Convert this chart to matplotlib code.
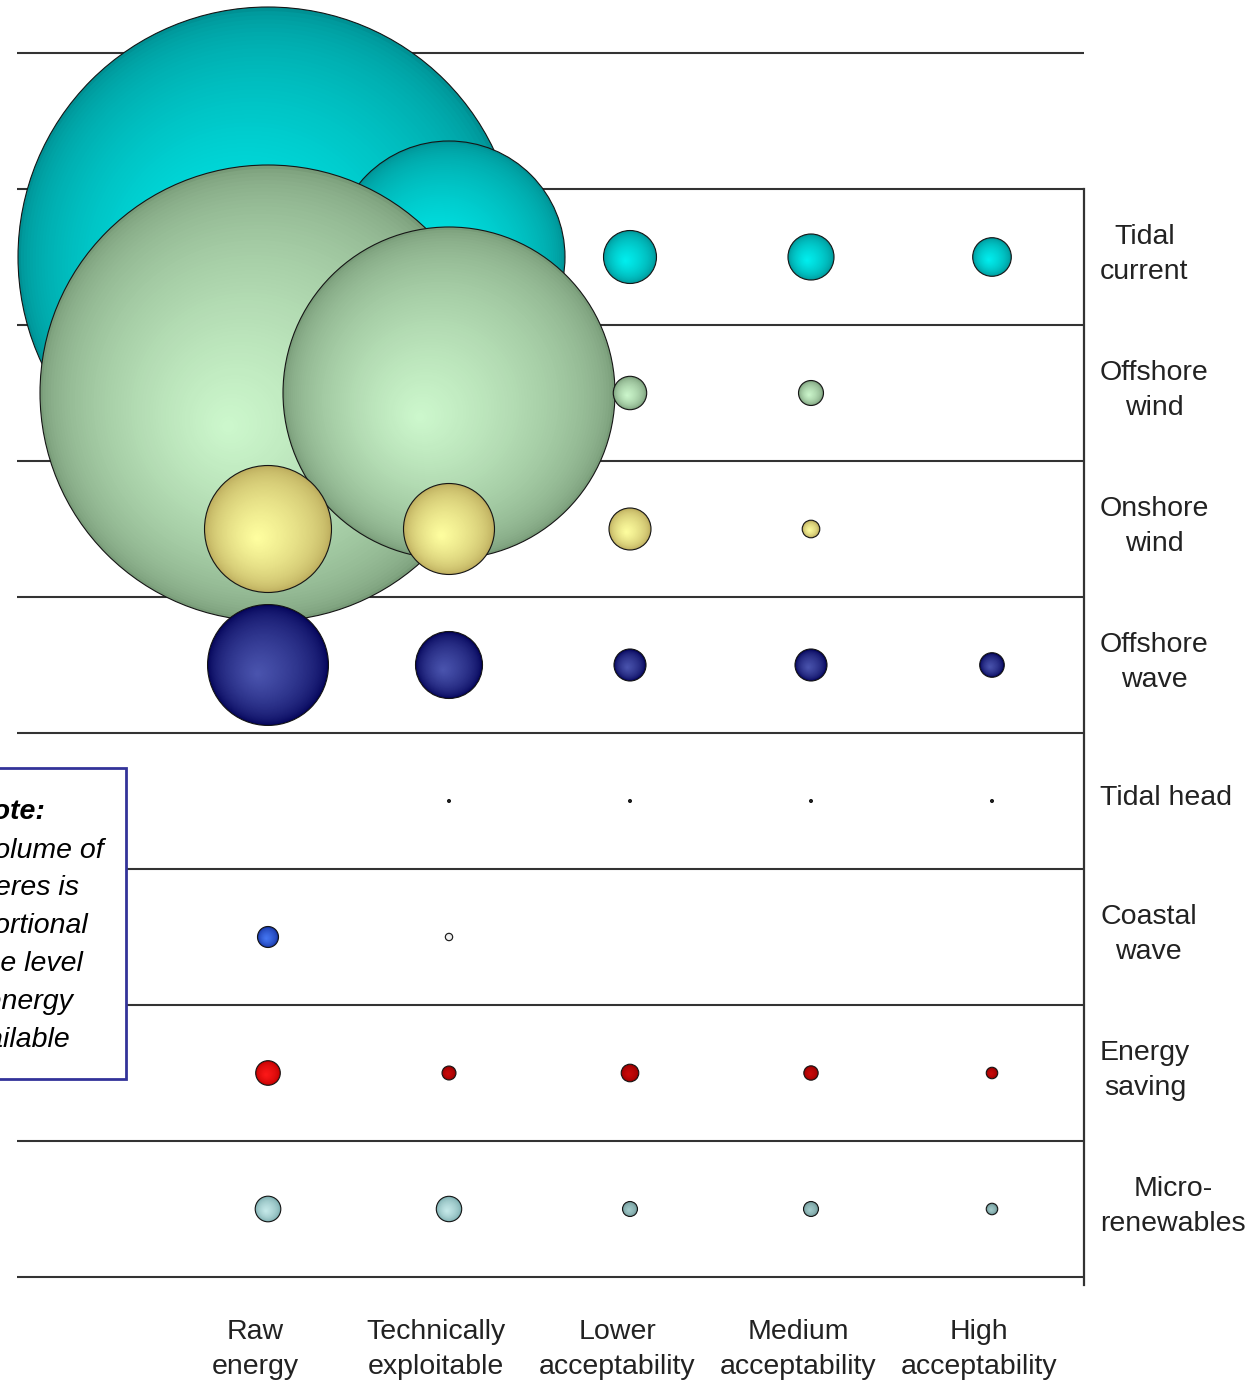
import numpy as np
import matplotlib
matplotlib.use("Agg")
import matplotlib.pyplot as plt
from matplotlib.patches import Ellipse, Rectangle

# energy levels (arbitrary units, sphere volume ~ energy)
sources = ['Tidal\ncurrent', 'Offshore\nwind', 'Onshore\nwind', 'Offshore\nwave',
           'Tidal head', 'Coastal\nwave', 'Energy\nsaving', 'Micro-\nrenewables']
levels = ['Raw\nenergy', 'Technically\nexploitable', 'Lower\nacceptability',
          'Medium\nacceptability', 'High\nacceptability']

tidal_current = [15625, 1561, 18.6, 12.2, 7.2]
offshore_wind = [11852, 4574, 4.66, 1.95, 0]
onshore_wind = [256, 94.2, 9.26, 0.68, 0]
offshore_wave = [221, 37.6, 4.1, 4.1, 1.86]
tidal_head = [0, 0.003, 0.003, 0.003, 0.003]
coastal_wave = [1.16, 0.05, 0, 0, 0]
energy_saving = [1.86, 0.34, 0.68, 0.37, 0.19]
micro_renewables = [2.1, 2.05, 0.42, 0.42, 0.19]

values = [tidal_current, offshore_wind, onshore_wind, offshore_wave,
          tidal_head, coastal_wave, energy_saving, micro_renewables]

# (edge colour, highlight colour) per source
row_colors = [
    ((0, 145, 148), (0, 240, 240)),
    ((120, 155, 120), (205, 248, 205)),
    ((185, 168, 90), (255, 255, 160)),
    ((0, 0, 85), (75, 85, 175)),
    ((20, 20, 20), (60, 60, 60)),
    ((20, 50, 160), (70, 120, 245)),
    ((150, 0, 0), (205, 10, 10)),
    ((120, 170, 172), (200, 235, 235)),
]
cell_colors = {
    (5, 1): ((225, 225, 225), (255, 255, 255)),
    (6, 0): ((190, 0, 0), (255, 25, 25)),
    (7, 2): ((110, 150, 150), (165, 205, 205)),
    (7, 3): ((110, 150, 150), (165, 205, 205)),
    (7, 4): ((110, 150, 150), (165, 205, 205)),
}

W, H = 1260, 1386
fig = plt.figure(figsize=(W / 100, H / 100), dpi=100)
ax = fig.add_axes([0, 0, 1, 1])
x0, x1 = -1.4807, 5.4807
y0, y1 = 8.3015, -1.8897
ax.set_xlim(x0, x1)
ax.set_ylim(y0, y1)
ax.axis('off')
sx = W / (x1 - x0)   # pixels per column
sy = H / (y0 - y1)   # pixels per row

line_col = '#333333'
x_left, x_right = -1.387, 4.508
for yb in np.arange(-1.5, 8.0, 1.0):
    ax.plot([x_left, x_right], [yb, yb], color=line_col, lw=1.5, zorder=1,
            solid_capstyle='butt')
ax.plot([x_right, x_right], [-0.5, 7.56], color=line_col, lw=1.6, zorder=1)


def sphere(x, y, r_px, edge, center):
    edge = np.array(edge) / 255.0
    center = np.array(center) / 255.0
    rx, ry = r_px / sx, r_px / sy
    n = int(np.clip(r_px, 3, 70))
    for k in range(n):
        t = k / n
        col = edge + (center - edge) * t ** 0.55
        cx = x - 0.18 * t * rx
        cy = y + 0.15 * t * ry
        ax.add_patch(Ellipse((cx, cy), 2 * rx * (1 - t), 2 * ry * (1 - t),
                             fc=col, ec='none', zorder=3))
    ax.add_patch(Ellipse((x, y), 2 * rx, 2 * ry, fc='none', ec='#151515',
                         lw=0.8, zorder=3))


for i, row in enumerate(values):
    for j, v in enumerate(row):
        if v <= 0:
            continue
        r_px = 10 * v ** (1 / 3)
        edge, center = cell_colors.get((i, j), row_colors[i])
        sphere(j, i, r_px, edge, center)

# source labels on the right
for i, name in enumerate(sources):
    ax.text(4.597, i - 0.02, name, ha='left', va='center', multialignment='center',
            fontsize=20.5, family='Liberation Sans', color='#222222',
            linespacing=1.45, zorder=5)

# level labels at the bottom
for j, name in enumerate(levels):
    ax.text(j - 0.07, 8.03, name, ha='center', va='center', multialignment='center',
            fontsize=20.5, family='Liberation Sans', color='#222222',
            linespacing=1.45, zorder=5)

# note box (partly off the left edge)
ax.add_patch(Rectangle((-1.6, 3.757), -0.7845 + 1.6, 6.044 - 3.757, fc='white',
                       ec='#333399', lw=2.0, zorder=4))
ax.text(-1.43, 4.08, 'Note:', ha='center', va='center', fontsize=20.5,
        family='Liberation Sans', style='italic', weight='bold', color='black', zorder=5)
ax.text(-1.406, 5.06, 'The volume of\nspheres is\nproportional\nto the level\nof energy\navailable',
        ha='center', va='center', multialignment='center', fontsize=20.5,
        family='Liberation Sans', style='italic', color='black',
        linespacing=1.59, zorder=5)

fig.savefig('out.png', dpi=100, facecolor='white')
